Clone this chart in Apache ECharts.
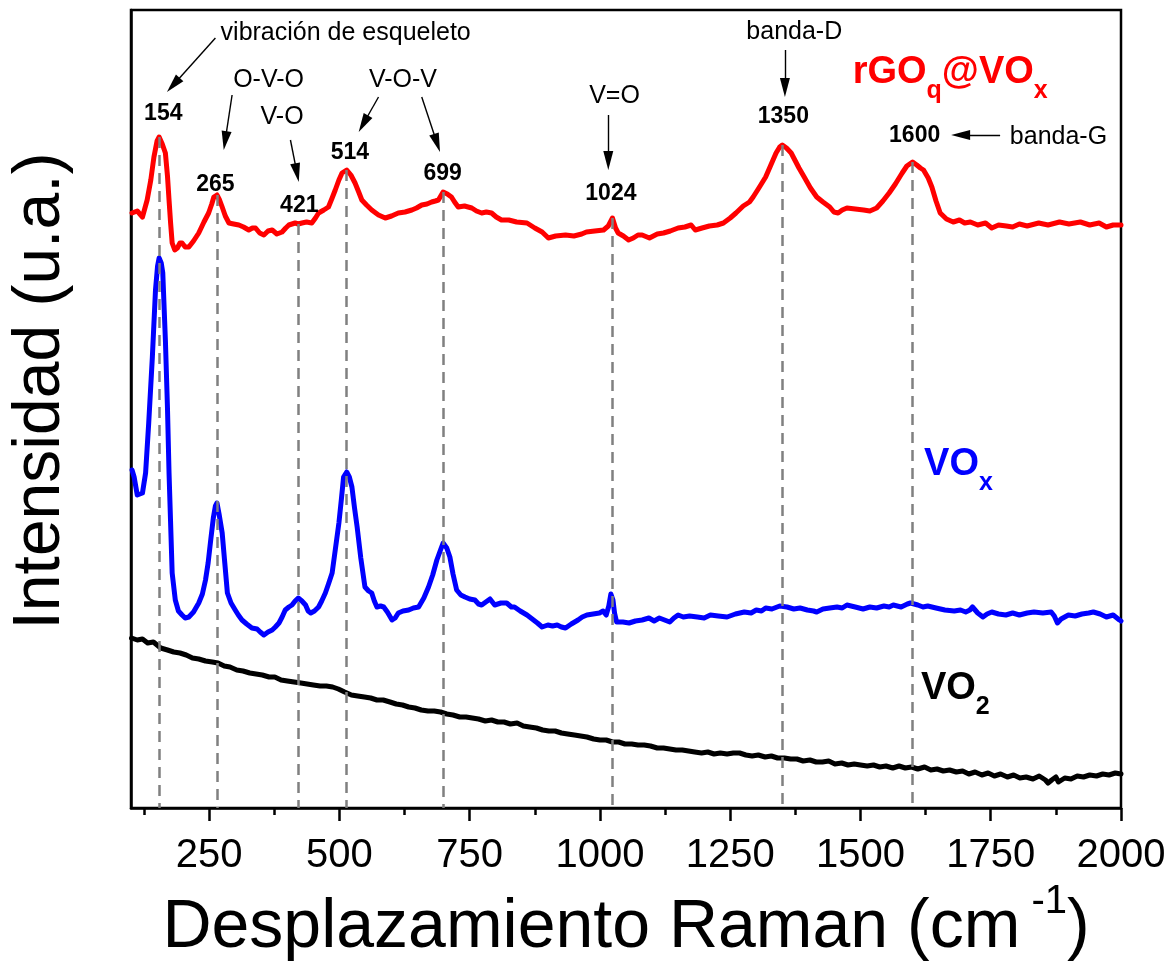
<!DOCTYPE html>
<html>
<head>
<meta charset="utf-8">
<title>Espectros Raman</title>
<script src="https://cdn.jsdelivr.net/npm/echarts@6/dist/echarts.min.js"></script>
<style>
  html, body { margin: 0; padding: 0; background: #ffffff; }
  #chart { width: 1169px; height: 973px; }
</style>
</head>
<body>
<div id="chart"></div>
<script>
// Raman shift (cm-1) vs. intensity (arbitrary units) for the three samples.
const rgoVox = [
  [102,595],[112,597],[122,591],[131,608],[138,628],[144,651],[150,667],[154,671],[160,664],[166,655],
  [170,632],[173,608],[176,585],[179,565],[184,558],[189,560],[194,565],[198,565],[204,561],[211,561],
  [220,567],[230,575],[240,586],[249,595],[255,604],[259,611],[265,613],[270,608],[275,601],[281,592],
  [288,585],[297,584],[307,583],[316,581],[326,578],[333,580],[339,580],[347,575],[355,573],[363,577],
  [371,578],[380,574],[390,576],[397,580],[403,583],[415,585],[421,584],[428,585],[437,586],[447,585],
  [454,590],[460,595],[470,598],[479,601],[486,610],[492,618],[499,628],[505,635],[514,638],[522,633],
  [530,625],[537,616],[543,608],[552,603],[562,598],[575,593],[588,590],[600,592],[613,595],[626,596],
  [639,598],[648,600],[658,603],[668,604],[677,606],[684,607],[690,608],[699,616],[707,614],[715,611],
  [721,606],[728,601],[740,602],[754,600],[763,597],[773,595],[782,596],[792,595],[801,591],[811,588],
  [825,588],[840,586],[860,585],[875,580],[889,576],[901,570],[915,572],[934,573],[950,572],[965,574],
  [974,576],[990,577],[1007,578],[1016,582],[1024,590],[1030,580],[1035,575],[1045,572],[1055,568],[1064,570],
  [1073,573],[1081,573],[1095,570],[1110,574],[1122,575],[1135,577],[1150,580],[1163,581],[1175,583],[1183,578],
  [1196,580],[1210,582],[1225,583],[1237,585],[1250,590],[1261,595],[1275,602],[1287,606],[1294,611],[1305,620],
  [1318,631],[1328,643],[1338,655],[1345,661],[1350,663],[1358,660],[1367,655],[1375,647],[1382,640],[1392,631],
  [1404,620],[1416,611],[1428,606],[1441,601],[1449,596],[1457,595],[1465,598],[1474,600],[1490,599],[1506,598],
  [1518,597],[1531,600],[1543,607],[1555,615],[1567,624],[1580,635],[1589,642],[1600,646],[1608,643],[1615,640],
  [1621,638],[1630,630],[1637,621],[1645,607],[1653,595],[1665,589],[1678,586],[1690,588],[1700,585],[1711,586],
  [1725,583],[1740,585],[1752,580],[1765,583],[1780,582],[1792,581],[1805,584],[1820,582],[1842,585],[1860,583],
  [1882,586],[1900,584],[1922,586],[1940,583],[1958,585],[1972,581],[1985,583],[2000,583]
];

const vox = [
  [102,338],[106,331],[112,313],[117,314],[122,315],[128,335],[134,385],[141,451],[147,518],[151,542],
  [154,550],[158,545],[161,535],[166,468],[170,400],[173,335],[179,235],[185,208],[191,197],[198,193],
  [204,190],[211,191],[220,196],[230,205],[237,214],[243,228],[248,245],[253,268],[258,290],[262,302],
  [265,305],[269,294],[275,275],[280,245],[285,215],[292,205],[300,198],[306,193],[313,188],[322,184],
  [332,180],[342,179],[348,176],[355,173],[363,176],[371,178],[377,181],[384,185],[390,191],[396,198],
  [403,201],[409,203],[415,207],[421,210],[428,207],[435,203],[440,197],[445,195],[452,197],[460,201],
  [466,207],[473,215],[479,224],[486,235],[492,258],[499,285],[504,310],[508,331],[514,336],[519,331],
  [524,321],[529,300],[534,281],[541,250],[549,221],[556,217],[562,215],[567,207],[572,201],[579,202],
  [585,201],[592,196],[601,188],[607,190],[613,195],[622,197],[633,198],[642,200],[652,201],[662,210],
  [671,221],[679,233],[687,248],[694,258],[699,265],[706,260],[712,251],[718,234],[725,218],[733,213],
  [741,211],[750,209],[760,208],[767,204],[773,203],[781,206],[789,209],[798,203],[810,205],[821,205],
  [830,201],[836,201],[847,197],[860,193],[870,189],[880,185],[889,181],[900,183],[909,182],[918,183],
  [926,181],[934,180],[945,184],[958,188],[966,191],[975,193],[987,194],[999,195],[1006,197],[1012,193],
  [1017,202],[1021,214],[1025,208],[1028,195],[1032,186],[1044,186],[1056,185],[1068,187],[1081,188],[1094,190],
  [1104,187],[1114,190],[1124,188],[1134,186],[1142,190],[1150,193],[1160,191],[1172,192],[1187,191],[1200,190],
  [1212,193],[1227,192],[1244,191],[1260,194],[1277,196],[1290,195],[1300,198],[1310,197],[1318,200],[1330,199],
  [1345,202],[1359,201],[1372,199],[1384,200],[1398,198],[1410,197],[1416,196],[1428,199],[1441,200],[1455,201],
  [1465,200],[1474,203],[1490,201],[1505,199],[1518,201],[1531,200],[1545,202],[1555,201],[1563,203],[1578,201],
  [1590,204],[1596,205],[1610,203],[1620,201],[1629,202],[1645,200],[1662,198],[1680,197],[1692,198],[1702,196],
  [1710,198],[1715,201],[1725,195],[1735,191],[1743,194],[1752,196],[1765,194],[1779,193],[1792,195],[1805,193],
  [1820,195],[1833,196],[1850,195],[1866,196],[1872,192],[1878,185],[1885,189],[1899,193],[1912,192],[1925,194],
  [1938,195],[1947,196],[1960,194],[1972,191],[1985,193],[1997,188],[2000,187]
];

const vo2 = [
  [101,170],[112,168],[122,169],[132,165],[143,166],[157,160],[170,158],[182,156],[194,155],[206,153],
  [218,150],[230,149],[243,147],[256,146],[267,145],[279,142],[290,141],[303,138],[315,137],[328,135],
  [340,134],[352,133],[365,131],[376,131],[388,128],[400,127],[413,126],[426,125],[438,124],[450,123],
  [463,122],[475,122],[487,121],[498,119],[510,116],[523,113],[535,112],[548,111],[560,110],[572,108],
  [584,108],[597,106],[609,104],[621,103],[633,101],[645,100],[657,98],[670,97],[682,97],[694,96],
  [706,94],[718,93],[731,91],[743,91],[755,90],[767,89],[780,87],[792,88],[804,86],[816,86],
  [828,84],[841,85],[853,82],[865,81],[878,80],[890,78],[902,77],[914,77],[926,75],[938,74],
  [951,73],[963,72],[975,71],[988,69],[1000,68],[1012,68],[1024,66],[1036,66],[1048,64],[1061,64],
  [1073,63],[1085,63],[1097,62],[1110,60],[1122,60],[1134,59],[1146,58],[1158,58],[1170,57],[1182,56],
  [1195,55],[1207,56],[1219,54],[1231,55],[1244,54],[1256,55],[1268,55],[1280,53],[1292,52],[1304,53],
  [1317,51],[1329,52],[1341,50],[1354,50],[1366,49],[1378,49],[1390,47],[1403,48],[1415,46],[1427,46],
  [1439,47],[1451,44],[1464,45],[1476,43],[1488,44],[1500,43],[1513,42],[1525,43],[1537,41],[1549,42],
  [1562,40],[1574,42],[1586,40],[1598,41],[1610,39],[1623,41],[1635,38],[1647,39],[1659,37],[1671,38],
  [1684,36],[1696,37],[1708,34],[1720,36],[1733,33],[1745,35],[1757,32],[1769,34],[1782,31],[1794,33],
  [1806,30],[1818,31],[1831,29],[1843,32],[1855,28],[1860,25],[1867,28],[1875,31],[1880,26],[1892,30],
  [1904,29],[1916,32],[1928,31],[1940,33],[1953,32],[1965,34],[1977,33],[1989,35],[2000,34]
];

// Assigned band positions (cm-1), marked with dashed drop lines and bold labels.
const peakShifts = [154, 265, 421, 514, 699, 1024, 1350, 1600];

// Vibrational assignments.
const bandNames = ['vibración de esqueleto', 'O-V-O', 'V-O', 'V-O-V', 'V=O', 'banda-D', 'banda-G'];

// Axis ticks.
const majorTicks = [250, 500, 750, 1000, 1250, 1500, 1750, 2000];
const minorTicks = [125, 375, 625, 875, 1125, 1375, 1625, 1875];

// ---------------------------------------------------------------------------
const FONT = 'Arial, "Liberation Sans", Helvetica, sans-serif';
const X_MIN = 100, X_MAX = 2000, Y_MIN = 0, Y_MAX = 798;
const GRID = { left: 130, right: 48, top: 10, bottom: 165 };
const PLOT_W = 1169 - GRID.left - GRID.right;
const PLOT_H = 973 - GRID.top - GRID.bottom;
const PX_X = PLOT_W / (X_MAX - X_MIN);
const PX_Y = PLOT_H / (Y_MAX - Y_MIN);

function curveAt(series, x) {
  const p = series.find(d => d[0] === x);
  return p ? p[1] : null;
}

// label placement relative to each peak of the top spectrum [dx, dy]
const peakLabelOffset = {
  154: [8, 23], 265: [-3, 10], 421: [2, 18], 514: [6, 17],
  699: [-1, 18], 1024: [-3, 24], 1350: [2, 28], 1600: [4, 26]
};

// band-name text anchors (centre) and arrows [from, tip]
const bandLayout = [
  { at: [512, 775], arrows: [[[262, 770], [169, 716]]] },
  { at: [364, 728], arrows: [[[294, 713], [278, 658]]] },
  { at: [390, 691], arrows: [[[406, 668], [422, 626]]] },
  { at: [622, 728], arrows: [[[575, 711], [537, 676]], [[658, 711], [693, 656]]] },
  { at: [1028, 712], arrows: [[[1016, 693], [1016, 638]]] },
  { at: [1373, 776], arrows: [[[1355, 758], [1355, 711]]] },
  { at: [1880, 671], arrows: [[[1768, 673], [1674, 673]]] }
];

const HEAD_LEN = 19, HEAD_W = 10;

function arrowLine(from, tip) {
  const dx = (tip[0] - from[0]) * PX_X;
  const dy = (tip[1] - from[1]) * PX_Y;
  const len = Math.hypot(dx, dy);
  const k = (len - HEAD_LEN / 2) / len;
  const end = [from[0] + (tip[0] - from[0]) * k, from[1] + (tip[1] - from[1]) * k];
  return [
    { coord: from, symbol: 'none', lineStyle: { color: '#000', width: 1.4, type: 'solid' }, itemStyle: { color: '#000' } },
    { coord: end, symbol: 'triangle', symbolSize: [HEAD_W, HEAD_LEN], itemStyle: { color: '#000' } }
  ];
}

function dropLine(x) {
  return [
    { coord: [x, curveAt(rgoVox, x)], symbol: 'none', lineStyle: { color: '#808080', width: 2.5, type: [11, 7] } },
    { coord: [x, Y_MIN], symbol: 'none' }
  ];
}

// text items drawn through a symbol-less scatter series
const textItems = [];
peakShifts.forEach(p => {
  const off = peakLabelOffset[p];
  textItems.push({
    value: [p + off[0], curveAt(rgoVox, p) + off[1]],
    label: { show: true, position: 'inside', formatter: String(p), fontSize: 23, fontWeight: 'bold', color: '#000', fontFamily: FONT }
  });
});
bandNames.forEach((name, i) => {
  textItems.push({
    value: bandLayout[i].at,
    label: { show: true, position: 'inside', formatter: name, fontSize: 25, color: '#000', fontFamily: FONT }
  });
});

function sampleLabel(text, pos, color) {
  return {
    value: pos,
    label: {
      show: true, position: 'inside', align: 'left', formatter: text,
      rich: {
        m: { fontSize: 38, fontWeight: 'bold', color: color, fontFamily: FONT, lineHeight: 50, verticalAlign: 'top' },
        s: { fontSize: 25, fontWeight: 'bold', color: color, fontFamily: FONT, lineHeight: 25, verticalAlign: 'bottom' }
      }
    }
  };
}
textItems.push(sampleLabel('{m|rGO}{s|q}{m|@VO}{s|x}', [1485, 729], '#ff0000'));
textItems.push(sampleLabel('{m|VO}{s|x}', [1622, 337], '#0000ff'));
textItems.push(sampleLabel('{m|VO}{s|2}', [1616, 113], '#000000'));

const markLines = peakShifts.map(dropLine);
bandLayout.forEach(b => b.arrows.forEach(a => markLines.push(arrowLine(a[0], a[1]))));

const tickStyle = { color: '#000', width: 2.5 };

const option = {
  animation: false,
  backgroundColor: '#ffffff',
  grid: {
    left: GRID.left, right: GRID.right, top: GRID.top, bottom: GRID.bottom,
    show: true, borderColor: '#000', borderWidth: 2.5, backgroundColor: 'transparent'
  },
  xAxis: [
    {
      type: 'value', min: X_MIN, max: X_MAX, position: 'bottom',
      axisLine: { show: true, onZero: false, lineStyle: { color: '#000', width: 2.5 } },
      axisTick: { show: true, customValues: majorTicks, length: 13, inside: false, lineStyle: tickStyle },
      axisLabel: {
        show: true, customValues: majorTicks, fontSize: 40, color: '#000', fontFamily: FONT, margin: 28,
        formatter: v => String(v)
      },
      splitLine: { show: false },
      name: '{m|Desplazamiento Raman (cm}{p| -1}{m|)}',
      nameLocation: 'middle', nameGap: 74, nameMoveOverlap: false,
      nameTextStyle: {
        rich: {
          m: { fontSize: 68, color: '#000', fontFamily: FONT, lineHeight: 80, verticalAlign: 'bottom' },
          p: { fontSize: 40, color: '#000', fontFamily: FONT, lineHeight: 40, verticalAlign: 'top' }
        }
      }
    },
    {
      type: 'value', min: X_MIN, max: X_MAX, position: 'bottom', offset: 0,
      axisLine: { show: false },
      axisTick: { show: true, customValues: minorTicks, length: 7, inside: false, lineStyle: tickStyle },
      axisLabel: { show: false },
      splitLine: { show: false }
    }
  ],
  yAxis: {
    type: 'value', min: Y_MIN, max: Y_MAX,
    axisLine: { show: true, onZero: false, lineStyle: { color: '#000', width: 2.5 } },
    axisTick: { show: false }, axisLabel: { show: false }, splitLine: { show: false },
    name: 'Intensidad (u.a.)', nameLocation: 'middle', nameGap: 57, nameMoveOverlap: false,
    nameTextStyle: { fontSize: 66, color: '#000', fontFamily: FONT, lineHeight: 66, padding: [0, 0, 0, 36] }
  },
  series: [
    {
      name: 'VO2', type: 'line', data: vo2, xAxisIndex: 0, showSymbol: false, silent: true, z: 2,
      lineStyle: { color: '#000000', width: 5, join: 'round', cap: 'round' }, emphasis: { disabled: true }
    },
    {
      name: 'VOx', type: 'line', data: vox, xAxisIndex: 0, showSymbol: false, silent: true, z: 3,
      lineStyle: { color: '#0000ff', width: 5, join: 'round', cap: 'round' }, emphasis: { disabled: true }
    },
    {
      name: 'rGOq@VOx', type: 'line', data: rgoVox, xAxisIndex: 0, showSymbol: false, silent: true, z: 4,
      lineStyle: { color: '#ff0000', width: 5, join: 'round', cap: 'round' }, emphasis: { disabled: true }
    },
    {
      name: 'etiquetas', type: 'scatter', data: textItems, xAxisIndex: 0, symbolSize: 0, silent: true, z: 6,
      itemStyle: { color: 'rgba(0,0,0,0)', opacity: 1 }, emphasis: { disabled: true },
      markLine: {
        silent: true, animation: false, symbol: ['none', 'none'], precision: 4,
        label: { show: false }, emphasis: { disabled: true },
        data: markLines
      }
    }
  ]
};

const chart = echarts.init(document.getElementById('chart'), null, { renderer: 'canvas' });
chart.setOption(option);
</script>
</body>
</html>
